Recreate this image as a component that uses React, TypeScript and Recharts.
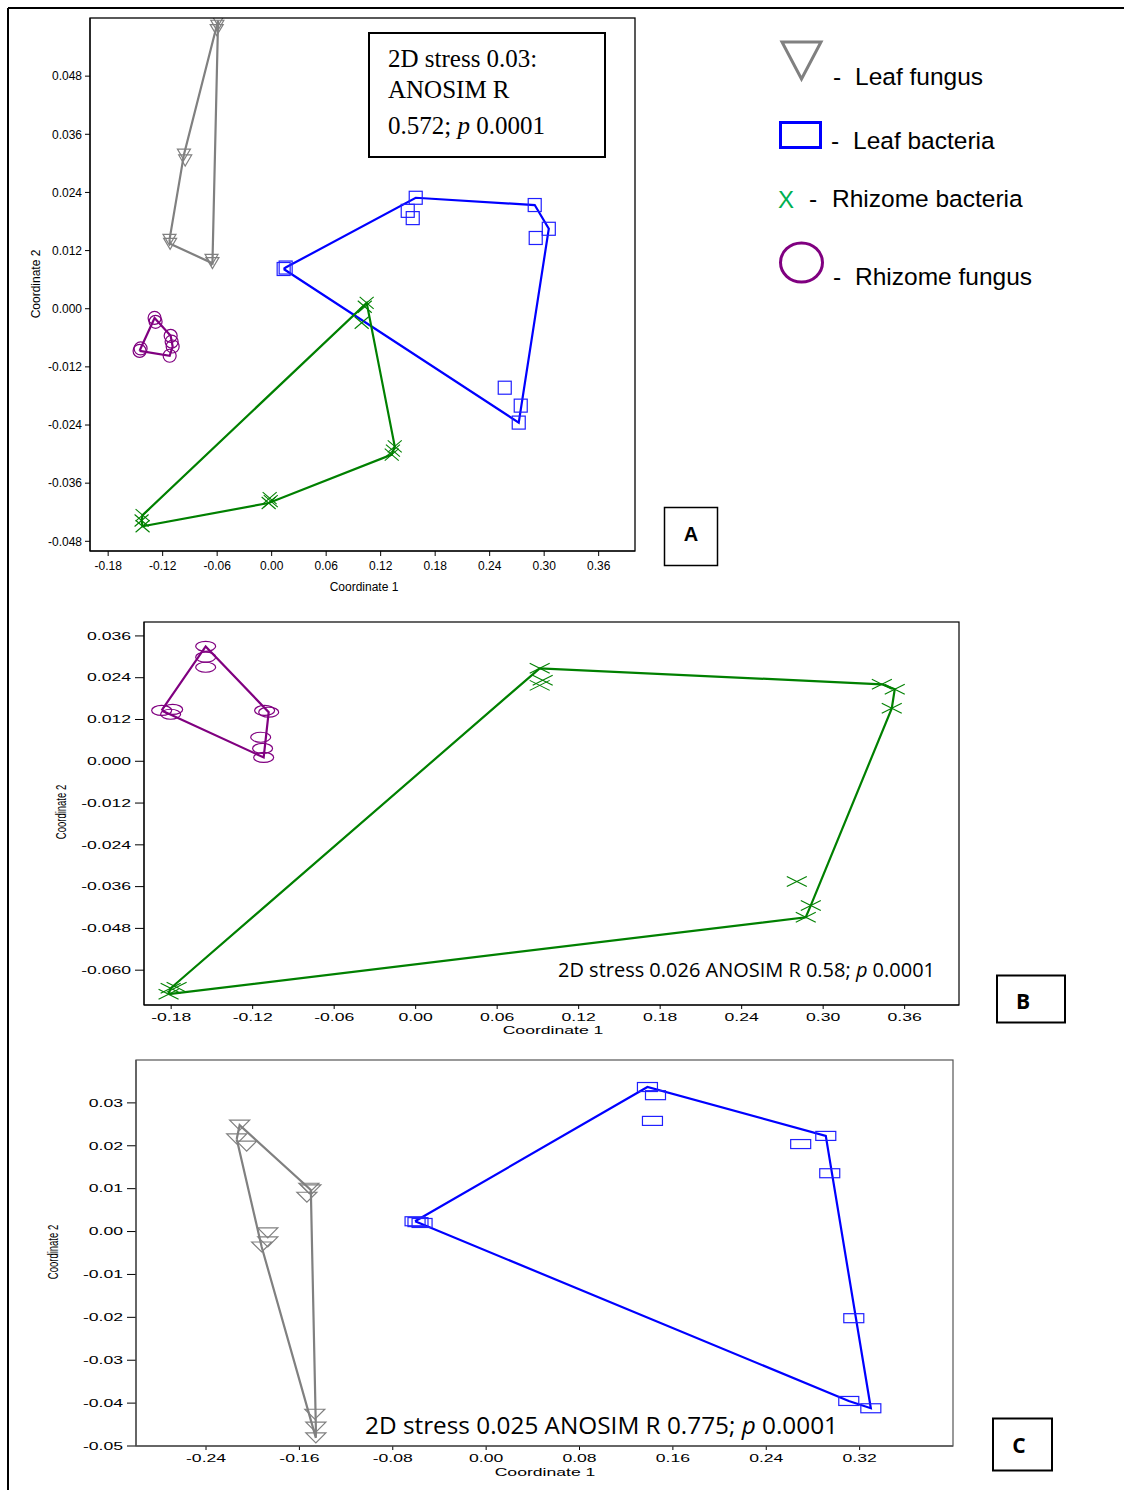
import React from "react";
import { ScatterChart, Scatter, XAxis, YAxis } from "recharts";

type Pt = { x: number; y: number };

// ---- panel A (all four groups) ----
const leafFungusA: Pt[] = [
  { x: -0.059, y: 0.0595 }, { x: -0.0598, y: 0.0584 }, { x: -0.0605, y: 0.0575 },
  { x: -0.0966, y: 0.0318 }, { x: -0.0952, y: 0.0306 },
  { x: -0.1125, y: 0.0142 }, { x: -0.1118, y: 0.0134 },
  { x: -0.0662, y: 0.0101 }, { x: -0.0652, y: 0.0094 },
];
const leafBacteriaA: Pt[] = [
  { x: 0.0132, y: 0.0082 }, { x: 0.0154, y: 0.0085 },
  { x: 0.1586, y: 0.0229 }, { x: 0.1498, y: 0.0202 }, { x: 0.1553, y: 0.0187 },
  { x: 0.2896, y: 0.0214 }, { x: 0.3051, y: 0.0165 }, { x: 0.2907, y: 0.0146 },
  { x: 0.2566, y: -0.0163 }, { x: 0.2742, y: -0.02 }, { x: 0.272, y: -0.0235 },
];
const rhizomeBacteriaA: Pt[] = [
  { x: 0.1046, y: 0.0012 }, { x: 0.1025, y: 0.0004 }, { x: 0.0991, y: -0.0029 },
  { x: 0.1355, y: -0.0284 }, { x: 0.1335, y: -0.0293 }, { x: 0.1322, y: -0.0301 },
  { x: -0.0022, y: -0.0391 }, { x: -0.0033, y: -0.0401 }, { x: -0.001, y: -0.0397 },
  { x: -0.1421, y: -0.0426 }, { x: -0.1432, y: -0.0437 }, { x: -0.1421, y: -0.0449 },
];
const rhizomeFungusA: Pt[] = [
  { x: -0.1289, y: -0.0019 }, { x: -0.1278, y: -0.0027 },
  { x: -0.1443, y: -0.0082 }, { x: -0.1454, y: -0.0087 },
  { x: -0.1112, y: -0.0056 }, { x: -0.1101, y: -0.0068 }, { x: -0.109, y: -0.0078 },
  { x: -0.1123, y: -0.0097 },
];

// ---- panel B (rhizome) ----
const rhizomeFungusB: Pt[] = [
  { x: -0.1546, y: 0.033 }, { x: -0.1546, y: 0.0299 }, { x: -0.1546, y: 0.027 },
  { x: -0.187, y: 0.0146 }, { x: -0.1789, y: 0.0149 }, { x: -0.1804, y: 0.0135 },
  { x: -0.1112, y: 0.0146 }, { x: -0.1082, y: 0.0141 },
  { x: -0.1141, y: 0.0069 }, { x: -0.1127, y: 0.0037 }, { x: -0.1119, y: 0.0011 },
];
const rhizomeBacteriaB: Pt[] = [
  { x: 0.0913, y: 0.0267 }, { x: 0.0935, y: 0.0233 }, { x: 0.0913, y: 0.0218 },
  { x: 0.3432, y: 0.0221 }, { x: 0.3527, y: 0.0207 }, { x: 0.3505, y: 0.0152 },
  { x: 0.2806, y: -0.0345 }, { x: 0.2909, y: -0.0414 }, { x: 0.2872, y: -0.0448 },
  { x: -0.176, y: -0.0649 }, { x: -0.1804, y: -0.0652 }, { x: -0.1819, y: -0.0669 },
];

// ---- panel C (leaf) ----
const leafFungusC: Pt[] = [
  { x: -0.2112, y: 0.0248 }, { x: -0.2137, y: 0.0216 }, { x: -0.2052, y: 0.0199 },
  { x: -0.1519, y: 0.0101 }, { x: -0.1502, y: 0.0097 }, { x: -0.1536, y: 0.008 },
  { x: -0.1871, y: -0.0003 }, { x: -0.1871, y: -0.0024 }, { x: -0.1923, y: -0.0036 },
  { x: -0.1468, y: -0.0426 }, { x: -0.1459, y: -0.0456 }, { x: -0.1459, y: -0.0481 },
];
const leafBacteriaC: Pt[] = [
  { x: 0.1382, y: 0.0337 }, { x: 0.1451, y: 0.0318 }, { x: 0.1425, y: 0.0258 },
  { x: 0.2695, y: 0.0204 }, { x: 0.291, y: 0.0223 }, { x: 0.2944, y: 0.0136 },
  { x: 0.315, y: -0.0202 }, { x: 0.3107, y: -0.0395 }, { x: 0.3296, y: -0.0412 },
  { x: -0.0609, y: 0.0024 }, { x: -0.0549, y: 0.002 }, { x: -0.0584, y: 0.0022 },
];

const xTicksAB = [-0.18, -0.12, -0.06, 0, 0.06, 0.12, 0.18, 0.24, 0.3, 0.36];
const yTicksA = [-0.048, -0.036, -0.024, -0.012, 0, 0.012, 0.024, 0.036, 0.048];
const yTicksB = [-0.06, -0.048, -0.036, -0.024, -0.012, 0, 0.012, 0.024, 0.036];
const xTicksC = [-0.24, -0.16, -0.08, 0, 0.08, 0.16, 0.24, 0.32];
const yTicksC = [-0.05, -0.04, -0.03, -0.02, -0.01, 0, 0.01, 0.02, 0.03];

const groupNames = ["Leaf fungus", "Leaf bacteria", "Rhizome bacteria", "Rhizome fungus"];
const statsA = ["2D stress 0.03:", "ANOSIM R", "0.572; ", "p", " 0.0001"];
const statsB = ["2D stress 0.026 ANOSIM R 0.58; ", "p", " 0.0001"];
const statsC = ["2D stress 0.025 ANOSIM R 0.775; ", "p", " 0.0001"];

const GRAY = "#808080";
const BLUE = "#0000ff";
const GREEN = "#008000";
const PURPLE = "#800080";
const ARIAL = "Liberation Sans, Arial, sans-serif";

// convex hull (monotone chain), closed for drawing
function hull(pts: Pt[]): Pt[] {
  const p = [...pts].sort((a, b) => a.x - b.x || a.y - b.y);
  const cross = (o: Pt, a: Pt, b: Pt) => (a.x - o.x) * (b.y - o.y) - (a.y - o.y) * (b.x - o.x);
  const lo: Pt[] = [];
  for (const q of p) {
    while (lo.length >= 2 && cross(lo[lo.length - 2], lo[lo.length - 1], q) <= 0) lo.pop();
    lo.push(q);
  }
  const up: Pt[] = [];
  for (const q of [...p].reverse()) {
    while (up.length >= 2 && cross(up[up.length - 2], up[up.length - 1], q) <= 0) up.pop();
    up.push(q);
  }
  lo.pop();
  up.pop();
  const h = lo.concat(up);
  return [...h, h[0]];
}

const fmt = (v: number, d: number) => (Math.abs(v) < 1e-9 ? 0 : v).toFixed(d);

// marker shapes
const tri = (w: number, h: number) => (p: any) => (
  <polygon
    points={`${p.cx - w / 2},${p.cy - h / 2} ${p.cx + w / 2},${p.cy - h / 2} ${p.cx},${p.cy + h / 2}`}
    fill="none" stroke={GRAY} strokeWidth={1.2}
  />
);
const box = (w: number, h: number) => (p: any) => (
  <rect x={p.cx - w / 2} y={p.cy - h / 2} width={w} height={h} fill="none" stroke="#2020ff" strokeWidth={1.2} />
);
const cross = (w: number, h: number) => (p: any) => (
  <g stroke={GREEN} strokeWidth={1.1}>
    <line x1={p.cx - w / 2} y1={p.cy - h / 2} x2={p.cx + w / 2} y2={p.cy + h / 2} />
    <line x1={p.cx - w / 2} y1={p.cy + h / 2} x2={p.cx + w / 2} y2={p.cy - h / 2} />
  </g>
);
const oval = (rx: number, ry: number) => (p: any) => (
  <ellipse cx={p.cx} cy={p.cy} rx={rx} ry={ry} fill="none" stroke={PURPLE} strokeWidth={1.2} />
);
const none = () => <g />;

const wideYTick = (d: number) => (p: any) => (
  <text transform={`translate(${p.x},${p.y}) scale(1.6,1)`} textAnchor="end" dominantBaseline="central"
    fontSize={11} fontFamily={ARIAL} fill="#000">
    {fmt(p.payload.value, d)}
  </text>
);
const wideXTick = (d: number) => (p: any) => (
  <text transform={`translate(${p.x},${p.y + 6}) scale(1.6,1)`} textAnchor="middle" dominantBaseline="central"
    fontSize={11} fontFamily={ARIAL} fill="#000">
    {fmt(p.payload.value, d)}
  </text>
);

function series(pts: Pt[], color: string, shape: any, key: string) {
  return [
    <Scatter key={key + "h"} data={hull(pts)} line={{ stroke: color, strokeWidth: 2.2 }} shape={none} isAnimationActive={false} />,
    <Scatter key={key + "p"} data={pts} shape={shape} isAnimationActive={false} />,
  ];
}

const abs = (left: number, top: number): React.CSSProperties => ({ position: "absolute", left, top });

// legend rows: dash x, label x, baseline
const legendRows = [
  { dash: 833, label: 855, y: 85 },
  { dash: 831, label: 853, y: 149 },
  { dash: 809, label: 832, y: 207 },
  { dash: 833, label: 855, y: 285 },
];

export default function App() {
  return (
    <div style={{ position: "absolute", left: 0, top: 0, width: 1124, height: 1490, background: "#fff" }}>
      {/* A */}
      <div style={abs(0, 0)}>
        <ScatterChart width={660} height={600} margin={{ top: 18, right: 25, left: 0, bottom: 0 }}>
          <XAxis type="number" dataKey="x" domain={[-0.2, 0.4]} ticks={xTicksAB} allowDataOverflow height={49}
            tickFormatter={(v) => fmt(v, 2)} tickSize={5} tickMargin={5} stroke="#000"
            tick={{ fontSize: 12, fill: "#000", fontFamily: ARIAL }} />
          <YAxis type="number" dataKey="y" domain={[-0.05, 0.06]} ticks={yTicksA} allowDataOverflow width={90}
            tickFormatter={(v) => fmt(v, 3)} tickSize={5} tickMargin={3} stroke="#000"
            tick={{ fontSize: 12, fill: "#000", fontFamily: ARIAL }} />
          {series(leafFungusA, GRAY, tri(13, 11), "lfa")}
          {series(leafBacteriaA, BLUE, box(13, 13), "lba")}
          {series(rhizomeBacteriaA, GREEN, cross(14, 12), "rba")}
          {series(rhizomeFungusA, PURPLE, oval(6.5, 6.5), "rfa")}
        </ScatterChart>
      </div>
      {/* B */}
      <div style={abs(0, 600)}>
        <ScatterChart width={985} height={460} margin={{ top: 22, right: 26, left: 0, bottom: 0 }}>
          <XAxis type="number" dataKey="x" domain={[-0.2, 0.4]} ticks={xTicksAB} allowDataOverflow height={55}
            tickSize={4} tickMargin={2} stroke="#000" tick={wideXTick(2)} />
          <YAxis type="number" dataKey="y" domain={[-0.07, 0.04]} ticks={yTicksB} allowDataOverflow width={144}
            tickSize={9} tickMargin={4} stroke="#000" tick={wideYTick(3)} />
          {series(rhizomeBacteriaB, GREEN, cross(20, 10), "rbb")}
          {series(rhizomeFungusB, PURPLE, oval(10, 5), "rfb")}
        </ScatterChart>
      </div>
      {/* C */}
      <div style={abs(0, 1040)}>
        <ScatterChart width={980} height={450} margin={{ top: 20, right: 27, left: 0, bottom: 0 }}>
          <XAxis type="number" dataKey="x" domain={[-0.3, 0.4]} ticks={xTicksC} allowDataOverflow height={44}
            tickSize={4} tickMargin={2} stroke="#000" tick={wideXTick(2)} />
          <YAxis type="number" dataKey="y" domain={[-0.05, 0.04]} ticks={yTicksC} allowDataOverflow width={136}
            tickSize={9} tickMargin={4} stroke="#000" tick={wideYTick(2)} />
          {series(leafFungusC, GRAY, tri(20, 10), "lfc")}
          {series(leafBacteriaC, BLUE, box(20, 9), "lbc")}
        </ScatterChart>
      </div>

      <svg width={1124} height={1490} style={{ position: "absolute", left: 0, top: 0, pointerEvents: "none" }}>
        {/* page frame */}
        <line x1={8} y1={8} x2={1124} y2={8} stroke="#000" strokeWidth={2} />
        <line x1={8} y1={8} x2={8} y2={1490} stroke="#000" strokeWidth={2} />

        {/* plot boxes */}
        <rect x={90} y={18} width={545} height={533} fill="none" stroke="#000" strokeWidth={1.3} />
        <rect x={144} y={622} width={815} height={383} fill="none" stroke="#000" strokeWidth={1.2} />
        <rect x={136} y={1060} width={817} height={386} fill="none" stroke="#555" strokeWidth={1.2} />

        {/* A stats */}
        <rect x={369} y={33} width={236} height={124} fill="none" stroke="#000" strokeWidth={2} />
        <g fontFamily="Liberation Serif, Times New Roman, serif" fontSize={25} fill="#000">
          <text x={388} y={67}>{statsA[0]}</text>
          <text x={388} y={98}>{statsA[1]}</text>
          <text x={388} y={134} xmlSpace="preserve">
            {statsA[2]}<tspan fontStyle="italic">{statsA[3]}</tspan>{statsA[4]}
          </text>
        </g>

        {/* legend */}
        <polygon points="782,42 821,42 801.5,79" fill="none" stroke={GRAY} strokeWidth={3} />
        <rect x={780.5} y={122.5} width={40} height={25} fill="none" stroke={BLUE} strokeWidth={3} />
        <text x={778} y={208} fontSize={24} fontFamily={ARIAL} fill="#00b050">X</text>
        <ellipse cx={801.5} cy={262.5} rx={21} ry={19.5} fill="none" stroke={PURPLE} strokeWidth={3} />
        <g fontSize={24.5} fontFamily={ARIAL} fill="#000">
          {groupNames.map((name, i) => (
            <g key={name}>
              <text x={legendRows[i].dash} y={legendRows[i].y}>-</text>
              <text x={legendRows[i].label} y={legendRows[i].y}>{name}</text>
            </g>
          ))}
        </g>

        {/* panel letters */}
        <rect x={664.5} y={507.5} width={53} height={58} fill="none" stroke="#000" strokeWidth={1.5} />
        <text x={691} y={541} textAnchor="middle" fontSize={20} fontWeight="bold" fontFamily={ARIAL}>A</text>
        <rect x={997} y={975.5} width={68} height={47} fill="none" stroke="#000" strokeWidth={2} />
        <text x={1023} y={1009} textAnchor="middle" fontSize={21} fontWeight="bold" fontFamily="Open Sans, sans-serif">B</text>
        <rect x={993} y={1418.5} width={59} height={52} fill="none" stroke="#000" strokeWidth={2} />
        <text x={1019} y={1453} textAnchor="middle" fontSize={21} fontWeight="bold" fontFamily="Open Sans, sans-serif">C</text>

        {/* axis titles */}
        <text x={364} y={591} textAnchor="middle" fontSize={12} fontFamily={ARIAL}>Coordinate 1</text>
        <text transform="translate(40,284) rotate(-90)" textAnchor="middle" fontSize={12} fontFamily={ARIAL}>Coordinate 2</text>
        <text transform="translate(553,1034) scale(1.6,1)" textAnchor="middle" fontSize={11} fontFamily={ARIAL}>Coordinate 1</text>
        <text transform="translate(66,812) scale(1.6,1) rotate(-90)" textAnchor="middle" fontSize={9.5} fontFamily={ARIAL}>Coordinate 2</text>
        <text transform="translate(545,1476) scale(1.6,1)" textAnchor="middle" fontSize={11} fontFamily={ARIAL}>Coordinate 1</text>
        <text transform="translate(58,1252) scale(1.6,1) rotate(-90)" textAnchor="middle" fontSize={9.5} fontFamily={ARIAL}>Coordinate 2</text>

        {/* B and C stats */}
        <text x={558} y={977} fontSize={20} fontFamily="Open Sans, sans-serif" textLength={377} lengthAdjust="spacingAndGlyphs" xmlSpace="preserve">
          {statsB[0]}<tspan fontStyle="italic">{statsB[1]}</tspan>{statsB[2]}
        </text>
        <text x={365} y={1434} fontSize={23.5} fontFamily="Open Sans, sans-serif" textLength={473} lengthAdjust="spacingAndGlyphs" xmlSpace="preserve">
          {statsC[0]}<tspan fontStyle="italic">{statsC[1]}</tspan>{statsC[2]}
        </text>
      </svg>
    </div>
  );
}
